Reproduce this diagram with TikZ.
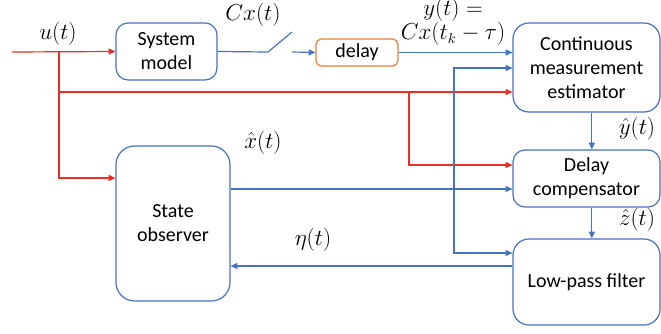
\documentclass[tikz,border=0pt]{standalone}
\usepackage{fontspec}
\setmainfont{Carlito}
\usetikzlibrary{arrows.meta}
\definecolor{lineblue}{RGB}{68,114,196}
\definecolor{linered}{RGB}{238,45,35}
\definecolor{delayorange}{RGB}{237,125,49}

\begin{document}
\begin{tikzpicture}[x=0.75pt, y=-0.75pt,
	block/.style={draw=lineblue, line width=0.9pt, rounded corners=9pt, align=center, inner sep=0pt, font=\fontsize{15}{18}\selectfont},
	sig/.style={draw=lineblue, line width=0.9pt, -{Triangle[length=5pt, width=4.5pt]}},
	redsig/.style={sig, draw=linered, -{Triangle[length=5pt, width=4.5pt]}, color=linered},
	lbl/.style={inner sep=0pt, align=center, font=\fontsize{16}{18}\selectfont}]
			%%%%% START %%%%%
			
			\useasboundingbox (0, 0) rectangle (661, 333);
			
			\node[block, minimum width=75.75pt, minimum height=42.75pt] (sysmodel) at (166.5, 51.5) {System\\model};
			\node[block, draw=delayorange, rounded corners=4pt, minimum width=61.5pt, minimum height=20.25pt] (delay) at (357, 52.5) {delay};
			\node[block, rounded corners=12pt, minimum width=110.25pt, minimum height=66.75pt] (cme) at (586.5, 67.5) {Continuous\\measurement\\estimator};
			\node[block, minimum width=110.25pt, minimum height=42.75pt] (dcomp) at (586.5, 178.5) {Delay\\compensator};
			\node[block, rounded corners=12pt, minimum width=110.25pt, minimum height=64.5pt] (lpf) at (586.5, 282) {Low-pass filter};
			\node[block, rounded corners=14pt, minimum width=85.5pt, minimum height=116.25pt] (obs) at (173, 223.5) {State\\observer};
			
			\coordinate (uin) at (12, 52);
			\coordinate (ubr) at (59, 52);
			\coordinate (rbr) at (409, 92);
			\coordinate (sw1) at (268, 52);
			\coordinate (sw2) at (292, 32);
			\coordinate (sw3) at (292, 52);
			\coordinate (xbr) at (454, 189);
			
			% input u(t)
			\draw[redsig] (uin) -- (sysmodel.west);
			\draw[redsig] (ubr) |- (obs.west |- 0, 178);
			\draw[redsig] (ubr |- 0, 92) -- (cme.west |- 0, 92);
			\draw[redsig] (rbr) |- (dcomp.west |- 0, 165);
			
			% measurement path
			\draw[lineblue, line width=0.9pt] (sysmodel.east) -- (sw1) -- (sw2);
			\draw[sig] (sw3) -- (delay.west);
			\draw[sig] (delay.east) -- (delay.east -| cme.west);
			\draw[sig] ([xshift=4pt]cme.south) -- ([xshift=4pt]dcomp.north);
			\draw[sig] ([xshift=4pt]dcomp.south) -- ([xshift=4pt]lpf.north);
			
			% observer paths
			\draw[sig] (obs.east |- 0, 189) -- (dcomp.west |- 0, 189);
			\draw[sig] (xbr) |- (cme.west |- 0, 68);
			\draw[sig] (xbr) |- (lpf.west |- 0, 253);
			\draw[sig] (lpf.west |- 0, 266) -- (obs.east |- 0, 266);
			
			\node[lbl] (ulbl) at (58, 34) {$u(t)$};
			\node[lbl] (cxlbl) at (253, 15) {$Cx(t)$};
			\node[lbl] (ylbl) at (453, 22) {$y(t)=$\\$Cx(t_k-\tau)$};
			\node[lbl] (xhlbl) at (263, 143) {$\hat{x}(t)$};
			\node[lbl] (etalbl) at (313, 240) {$\eta(t)$};
			\node[lbl] (yhlbl) at (637, 129) {$\hat{y}(t)$};
			\node[lbl] (zhlbl) at (637, 220) {$\hat{z}(t)$};
			
			%%%%% END %%%%%
		\end{tikzpicture}
\end{document}
